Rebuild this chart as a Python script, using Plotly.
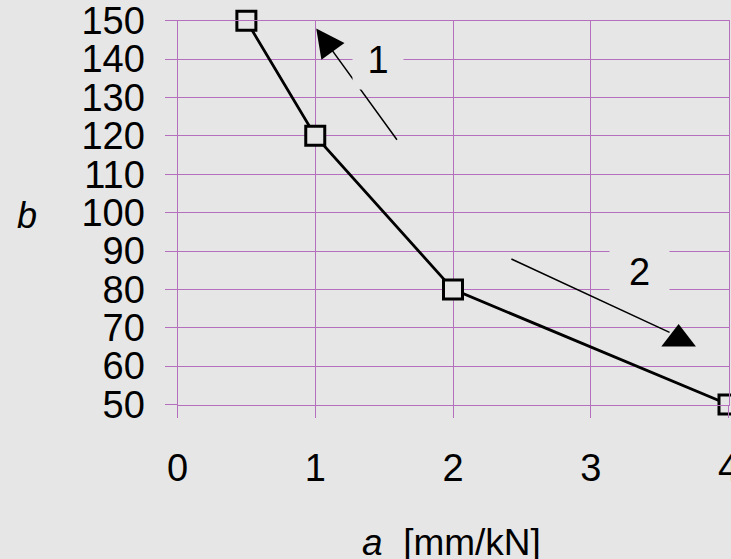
import plotly.graph_objects as go

# data
a_vals = [0.5, 1, 2, 4]
b_vals = [150, 120, 80, 50]
x_ticks = [0, 1, 2, 3, 4]
y_ticks = [50, 60, 70, 80, 90, 100, 110, 120, 130, 140, 150]

# annotation anchors (data coords)
arrow1_tail = (1.601, 118.6)
arrow1_tip = (1.007, 148.0)
arrow2_tail = (2.413, 88.1)
arrow2_end = (3.572, 68.8)
arrow2_head = (3.638, 67.1)
label1 = (1.457, 139.7)
label2 = (3.355, 84.5)

BG = "#e6e6e6"
GRID = "#b470bc"
FONT = "Liberation Sans, Arial, sans-serif"

fig = go.Figure()
fig.add_trace(go.Scatter(
    x=a_vals, y=b_vals, mode="lines+markers",
    line=dict(color="black", width=2.8),
    marker=dict(symbol="square", size=19, color=BG, line=dict(color="black", width=3)),
    cliponaxis=False, showlegend=False, hoverinfo="skip"))
fig.add_trace(go.Scatter(
    x=[arrow2_head[0]], y=[arrow2_head[1]], mode="markers",
    marker=dict(symbol="triangle-up", size=30, color="black", line=dict(width=0)),
    cliponaxis=False, showlegend=False, hoverinfo="skip"))

annotations = [
    dict(x=arrow1_tip[0], y=arrow1_tip[1], ax=arrow1_tail[0], ay=arrow1_tail[1],
         xref="x", yref="y", axref="x", ayref="y", text="", showarrow=True,
         arrowhead=2, arrowsize=3.8, arrowwidth=1.5, arrowcolor="black"),
    dict(x=arrow2_end[0], y=arrow2_end[1], ax=arrow2_tail[0], ay=arrow2_tail[1],
         xref="x", yref="y", axref="x", ayref="y", text="", showarrow=True,
         arrowhead=0, arrowwidth=1.5, arrowcolor="black"),
    dict(x=label1[0], y=label1[1], xref="x", yref="y", text="1", showarrow=False,
         font=dict(family=FONT, size=38, color="black"), bgcolor=BG, width=48, height=56),
    dict(x=label2[0], y=label2[1], xref="x", yref="y", text="2", showarrow=False,
         font=dict(family=FONT, size=38, color="black"), bgcolor=BG, width=57, height=60),
    dict(x=-0.2717, y=0.492, xref="paper", yref="paper", text="<i>b</i>", showarrow=False,
         xanchor="center", yanchor="middle",
         font=dict(family=FONT, size=36, color="black")),
    dict(x=0.4964, y=-0.356, xref="paper", yref="paper", text="<i>a</i>  [mm/kN]", showarrow=False,
         xanchor="center", yanchor="middle",
         font=dict(family=FONT, size=37, color="black")),
]

fig.update_layout(
    width=731, height=559,
    margin=dict(l=177, r=2, t=20, b=154, autoexpand=False),
    paper_bgcolor=BG, plot_bgcolor=BG,
    font=dict(family=FONT, size=38, color="black"),
    annotations=annotations,
    showlegend=False,
)
axis_common = dict(showgrid=True, gridcolor=GRID, gridwidth=1, zeroline=False,
                   showline=True, mirror=True, linecolor=GRID, linewidth=1,
                   ticks="outside", ticklen=12, tickcolor=GRID, tickwidth=1,
                   tickfont=dict(size=38), automargin=False, ticklabeloverflow="allow")
fig.update_xaxes(range=[0, 4], tickvals=x_ticks, domain=[0.5 / 552, 551.5 / 552],
                 ticklabelstandoff=18, **axis_common)
fig.update_yaxes(range=[50, 150], tickvals=y_ticks, domain=[0.5 / 385, 1 - 0.75 / 385],
                 ticklabelstandoff=12, **axis_common)

fig.write_html("out.html", config={"displayModeBar": False},
               post_script="document.body.style.margin='0';document.body.style.overflow='hidden';")
